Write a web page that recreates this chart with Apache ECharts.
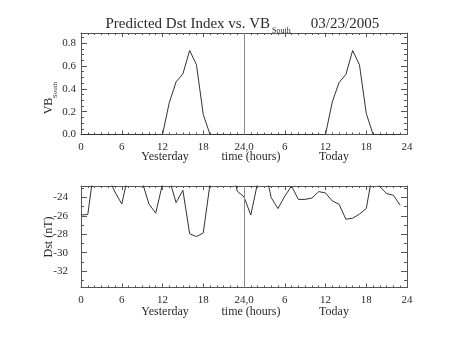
<!DOCTYPE html>
<html>
<head>
<meta charset="utf-8">
<script src="https://cdn.jsdelivr.net/npm/echarts@6/dist/echarts.min.js"></script>
<style>html,body{margin:0;padding:0;background:#fff}#c{width:453px;height:340px}</style>
</head>
<body>
<div id="c"></div>
<script>
// ---- data ----
const hours = [0,1,2,3,4,5,6,7,8,9,10,11,12,13,14,15,16,17,18,19,20,21,22,23,
               24,25,26,27,28,29,30,31,32,33,34,35,36,37,38,39,40,41,42,43,44,45,46,47];
const vbSouth = [0,0,0,0,0,0,0,0,0,0,0,0,0,0.28,0.46,0.53,0.735,0.61,0.175,0,0,0,0,0,
                 0,0,0,0,0,0,0,0,0,0,0,0,0,0.285,0.455,0.525,0.735,0.61,0.185,0,0,0,0,0];
const dst = [-25.9,-25.85,-20.4,-21.0,-21.8,-23.4,-24.7,-21.4,-21.5,-22.25,-24.7,-25.7,
             -22.5,-22.0,-24.55,-23.2,-27.95,-28.25,-27.85,-22.5,-21.5,-20.5,-19.6,-23.3,
             -23.93,-25.9,-22.4,-20.5,-24.0,-25.2,-23.85,-22.75,-24.2,-24.2,-24.05,-23.35,
             -23.5,-24.37,-24.73,-26.36,-26.25,-25.8,-25.2,-21.1,-22.8,-23.57,-23.75,-24.84];
const xTickValues = [0,6,12,18,24,30,36,42,48];
const xTickLabels = ['0','6','12','18','24,0','6','12','18','24'];
const vbTickValues = [0,0.2,0.4,0.6,0.8];
const vbTickLabels = ['0.0','0.2','0.4','0.6','0.8'];
const dstTickValues = [-32,-30,-28,-26,-24];
const dstTickLabels = ['-32','-30','-28','-26','-24'];

// minor tick positions
const xMinor = []; for (let i = 0; i <= 48; i++) xMinor.push(i);
const vbMinor = []; for (let i = 0; i <= 17; i++) vbMinor.push(+(i*0.05).toFixed(2));
const dstMinor = []; for (let i = -33; i <= -23; i++) dstMinor.push(i);

const FONT = 'Liberation Serif';
const AX = '#555';
const TXT = '#2a2a2a';

function xAxes(g) {
  const base = {type:'value', gridIndex:g, min:0, max:48, offset:0, splitLine:{show:false}, minorTick:{show:false}};
  const lab = (v) => xTickLabels[xTickValues.indexOf(v)];
  return [
    Object.assign({}, base, {position:'bottom', axisLine:{show:true, onZero:false, lineStyle:{color:AX}},
      axisTick:{show:true, inside:true, length:4, customValues:xTickValues, lineStyle:{color:AX}},
      axisLabel:{show:true, customValues:xTickValues, formatter:lab, color:TXT, fontFamily:FONT, fontSize:11, margin:7}}),
    Object.assign({}, base, {position:'bottom', axisLine:{show:false, onZero:false},
      axisTick:{show:true, inside:true, length:2, customValues:xMinor, lineStyle:{color:AX}}, axisLabel:{show:false}}),
    Object.assign({}, base, {position:'top', axisLine:{show:true, onZero:false, lineStyle:{color:AX}},
      axisTick:{show:true, inside:true, length:4, customValues:xTickValues, lineStyle:{color:AX}}, axisLabel:{show:false}}),
    Object.assign({}, base, {position:'top', axisLine:{show:false, onZero:false},
      axisTick:{show:true, inside:true, length:2, customValues:xMinor, lineStyle:{color:AX}}, axisLabel:{show:false}})
  ];
}
function yAxes(g, min, max, major, labels, minor, margin) {
  const base = {type:'value', gridIndex:g, min:min, max:max, offset:0, splitLine:{show:false}, minorTick:{show:false}};
  const lab = (v) => labels[major.indexOf(v)];
  return [
    Object.assign({}, base, {position:'left', axisLine:{show:true, onZero:false, lineStyle:{color:AX}},
      axisTick:{show:true, inside:true, length:6, customValues:major, lineStyle:{color:AX}},
      axisLabel:{show:true, customValues:major, formatter:lab, color:TXT, fontFamily:FONT, fontSize:11, margin:margin}}),
    Object.assign({}, base, {position:'left', axisLine:{show:false, onZero:false},
      axisTick:{show:true, inside:true, length:3, customValues:minor, lineStyle:{color:AX}}, axisLabel:{show:false}}),
    Object.assign({}, base, {position:'right', axisLine:{show:true, onZero:false, lineStyle:{color:AX}},
      axisTick:{show:true, inside:true, length:6, customValues:major, lineStyle:{color:AX}}, axisLabel:{show:false}}),
    Object.assign({}, base, {position:'right', axisLine:{show:false, onZero:false},
      axisTick:{show:true, inside:true, length:3, customValues:minor, lineStyle:{color:AX}}, axisLabel:{show:false}})
  ];
}

const vLine = {silent:true, symbol:'none', label:{show:false}, animation:false,
  lineStyle:{color:'#888', type:'solid', width:1}, data:[{xAxis:24}]};

const chart = echarts.init(document.getElementById('c'), null, {renderer:'canvas'});
chart.setOption({
  animation:false,
  backgroundColor:'#fff',
  grid:[
    {left:81, width:326, top:33, height:101.5},
    {left:81, width:326, top:186, height:101.5}
  ],
  xAxis: xAxes(0).concat(xAxes(1)),
  yAxis: yAxes(0, 0, 0.888, vbTickValues, vbTickLabels, vbMinor, 5)
         .concat(yAxes(1, -33.8, -22.74, dstTickValues, dstTickLabels, dstMinor, 13)),
  series:[
    {type:'line', xAxisIndex:0, yAxisIndex:0, data:hours.map((h,i)=>[h, vbSouth[i]]),
     showSymbol:false, lineStyle:{color:'#333', width:1}, clip:true, markLine:vLine},
    {type:'line', xAxisIndex:4, yAxisIndex:4, data:hours.map((h,i)=>[h, dst[i]]),
     showSymbol:false, lineStyle:{color:'#333', width:1}, clip:true, markLine:vLine}
  ],
  graphic:[
    {type:'text', x:270, y:24, style:{text:'Predicted Dst Index vs. VB', font:'15px "'+FONT+'"', fill:TXT, align:'right', verticalAlign:'middle'}},
    {type:'text', x:272, y:31, style:{text:'South', font:'8px "'+FONT+'"', fill:TXT, align:'left', verticalAlign:'middle'}},
    {type:'text', x:345, y:24, style:{text:'03/23/2005', font:'15px "'+FONT+'"', fill:TXT, align:'center', verticalAlign:'middle'}},
    {type:'text', x:165, y:157, style:{text:'Yesterday', font:'12px "'+FONT+'"', fill:TXT, align:'center', verticalAlign:'middle'}},
    {type:'text', x:251, y:157, style:{text:'time (hours)', font:'12px "'+FONT+'"', fill:TXT, align:'center', verticalAlign:'middle'}},
    {type:'text', x:334, y:157, style:{text:'Today', font:'12px "'+FONT+'"', fill:TXT, align:'center', verticalAlign:'middle'}},
    {type:'text', x:165, y:312, style:{text:'Yesterday', font:'12px "'+FONT+'"', fill:TXT, align:'center', verticalAlign:'middle'}},
    {type:'text', x:251, y:312, style:{text:'time (hours)', font:'12px "'+FONT+'"', fill:TXT, align:'center', verticalAlign:'middle'}},
    {type:'text', x:334, y:312, style:{text:'Today', font:'12px "'+FONT+'"', fill:TXT, align:'center', verticalAlign:'middle'}},
    {type:'text', x:49, y:106, rotation:Math.PI/2, style:{text:'VB', font:'12px "'+FONT+'"', fill:TXT, align:'center', verticalAlign:'middle'}},
    {type:'text', x:55, y:90, rotation:Math.PI/2, style:{text:'South', font:'7px "'+FONT+'"', fill:TXT, align:'center', verticalAlign:'middle'}},
    {type:'text', x:49, y:237, rotation:Math.PI/2, style:{text:'Dst (nT)', font:'12px "'+FONT+'"', fill:TXT, align:'center', verticalAlign:'middle'}}
  ]
});
</script>
</body>
</html>
